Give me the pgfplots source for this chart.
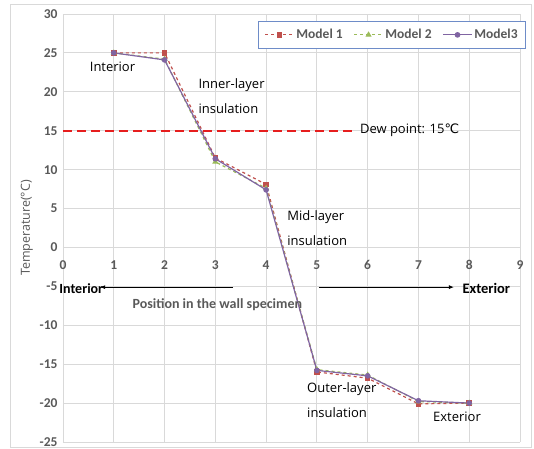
\documentclass[border=0pt]{standalone}
\usepackage{fontspec}
\setmainfont{Carlito}
\newfontfamily\seg{Open Sans}
\newfontfamily\dejavu{DejaVu Sans}
\usepackage{pgfplots}
\pgfplotsset{compat=1.18}
\usetikzlibrary{arrows.meta}
\definecolor{mred}{RGB}{192,80,77}
\definecolor{mgreen}{RGB}{155,187,89}
\definecolor{mpurple}{RGB}{128,100,162}
\definecolor{tickgray}{RGB}{89,89,89}
\definecolor{gridgray}{RGB}{217,217,217}
\definecolor{legblue}{RGB}{110,140,200}
\definecolor{dewred}{RGB}{230,30,30}

\begin{document}
\begin{tikzpicture}
\begin{axis}[
  scale only axis,
  width=457pt, height=428pt,
  xmin=0, xmax=9, ymin=-25, ymax=30,
  clip=false,
  xtick={0,...,9}, ytick={-25,-20,...,30},
  grid=major,
  grid style={gridgray, line width=0.8pt},
  axis line style={draw=none},
  major tick length=0pt,
  tick label style={font=\fontsize{13.5}{15}\selectfont\bfseries, text=tickgray},
  /pgf/number format/assume math mode=true,
  xticklabel style={yshift=185pt},
  yticklabel style={xshift=-2pt},
  ylabel={Temperature(°C)},
  ylabel style={font=\seg\fontsize{12.5}{14}\selectfont, text=tickgray, yshift=0pt},
  legend columns=3,
  legend style={at={(1,1)}, anchor=north east, xshift=6pt, yshift=-7pt,
    draw=legblue, line width=0.8pt, font=\fontsize{13.5}{15}\selectfont\bfseries,
    text=tickgray, inner xsep=6pt, inner ysep=6pt,
    /tikz/every even column/.append style={column sep=9pt}},
  legend image code/.code={\draw[mark repeat=2,mark phase=2] plot coordinates {(0cm,0cm)(0.5cm,0cm)(1.0cm,0cm)};},
]
\addplot[mred, line width=1.2pt, dashed, mark=square*, mark size=2.2pt, mark options={solid}]
  coordinates {(1,25)(2,25)(3,11.5)(4,8.1)(5,-16.0)(6,-16.8)(7,-20.1)(8,-20.0)};
\addlegendentry{Model 1}
\addplot[mgreen, line width=1.2pt, dashed, mark=triangle*, mark size=2.4pt, mark options={solid}]
  coordinates {(1,25)(2,24.2)(3,11.0)(4,7.6)(5,-15.7)(6,-16.4)(7,-19.8)(8,-20.0)};
\addlegendentry{Model 2}
\addplot[mpurple, line width=1.2pt, mark=*, mark size=2.2pt]
  coordinates {(1,25)(2,24.1)(3,11.4)(4,7.4)(5,-15.8)(6,-16.5)(7,-19.7)(8,-20.0)};
\addlegendentry{Model3}
\addplot[dewred, line width=2.4pt, dash pattern=on 9pt off 5pt, forget plot]
  coordinates {(0,15)(5.72,15)};

\node[anchor=west, font=\seg\fontsize{13}{15}\selectfont] at (axis cs:0.46,23.2) {Interior};
\node[anchor=west, font=\seg\fontsize{13}{15}\selectfont] at (axis cs:2.60,20.9) {Inner-layer};
\node[anchor=west, font=\seg\fontsize{13}{15}\selectfont] at (axis cs:2.60,17.9) {insulation};
\node[anchor=west, font=\seg\fontsize{13}{15}\selectfont] at (axis cs:5.78,15.0) {Dew point: 15{\dejavu ℃}};
\node[anchor=west, font=\seg\fontsize{13}{15}\selectfont] at (axis cs:4.35,3.85) {Mid-layer};
\node[anchor=west, font=\seg\fontsize{13}{15}\selectfont] at (axis cs:4.35,0.9) {insulation};
\node[anchor=west, font=\seg\fontsize{13}{15}\selectfont] at (axis cs:4.74,-18.2) {Outer-layer};
\node[anchor=west, font=\seg\fontsize{13}{15}\selectfont] at (axis cs:4.74,-21.2) {insulation};
\node[anchor=west, font=\seg\fontsize{13}{15}\selectfont] at (axis cs:7.22,-21.8) {Exterior};

\node[anchor=west, font=\fontsize{14}{16}\selectfont\bfseries] at (axis cs:-0.14,-5.3) {Interior};
\node[anchor=west, font=\fontsize{14.5}{16}\selectfont\bfseries] at (axis cs:7.80,-5.3) {Exterior};
\node[anchor=west, font=\fontsize{14}{16}\selectfont\bfseries, text=tickgray] at (axis cs:1.30,-7.3) {Position in the wall specimen};
\draw[black, line width=1pt, -{Latex[length=5pt,width=4pt]}] (axis cs:3.35,-5.1) -- (axis cs:0.73,-5.1);
\draw[black, line width=1pt, -{Latex[length=5pt,width=4pt]}] (axis cs:5.04,-5.1) -- (axis cs:7.70,-5.1);
\end{axis}
\pgfresetboundingbox
\draw[gridgray, line width=0.8pt] ([shift={(-53pt,-5pt)}]current axis.south west) rectangle ([shift={(11pt,10pt)}]current axis.north east);
\useasboundingbox ([shift={(-63pt,-7pt)}]current axis.south west) rectangle ([shift={(14pt,14pt)}]current axis.north east);
\end{tikzpicture}
\end{document}
